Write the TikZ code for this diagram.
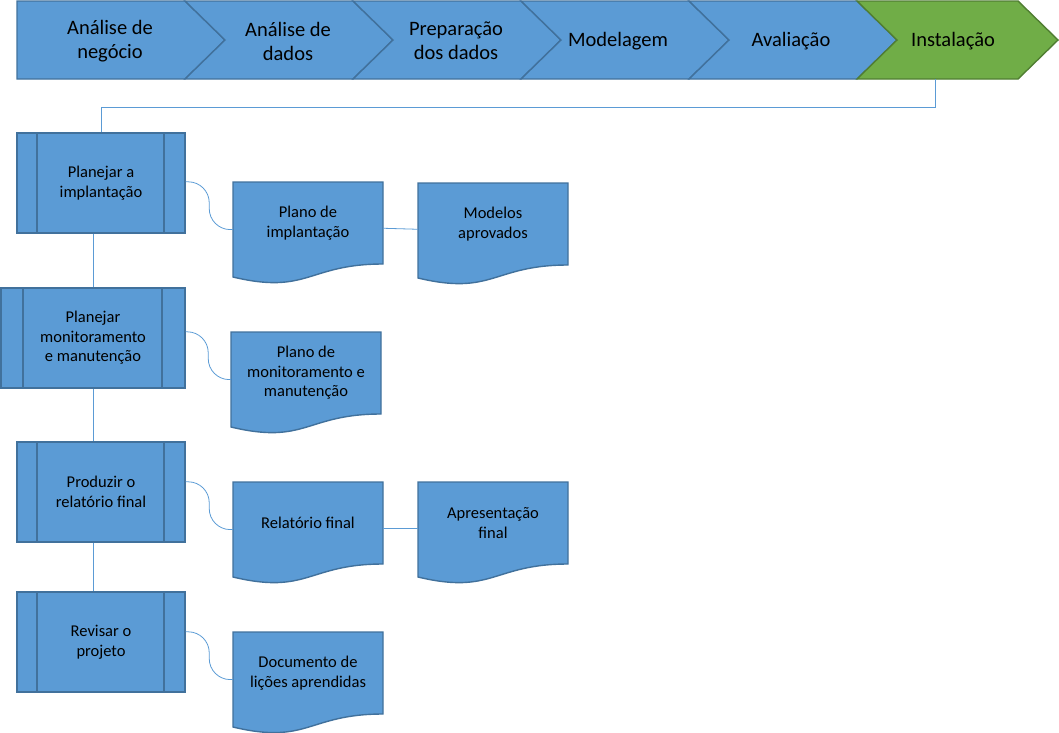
\documentclass[tikz,border=0pt]{standalone}
\usepackage{fontspec}
\setmainfont{Carlito}
\usepackage{tikz}
\usetikzlibrary{calc}

\definecolor{fillblue}{HTML}{5B9BD5}
\definecolor{bordblue}{HTML}{41719C}
\definecolor{fillgreen}{HTML}{70AD47}
\definecolor{bordgreen}{HTML}{507E32}
\definecolor{connblue}{HTML}{5B9BD5}

\tikzset{
	fase/.style={draw=bordblue, fill=fillblue, line width=1.4pt, line join=miter},
	faseverde/.style={draw=bordgreen, fill=fillgreen, line width=1.4pt, line join=miter},
	fasetexto/.style={align=center, inner sep=0pt, font=\fontsize{20.5pt}{24pt}\selectfont},
	processo/.style={draw=bordblue, fill=fillblue, line width=1.4pt, align=center,
		minimum height=100pt, inner sep=0pt, font=\fontsize{16.5pt}{19.5pt}\selectfont,
		path picture={
			\draw[bordblue, line width=1.4pt]
			($(path picture bounding box.north west)!0.12!(path picture bounding box.north east)$) --
			($(path picture bounding box.south west)!0.12!(path picture bounding box.south east)$)
			($(path picture bounding box.north west)!0.875!(path picture bounding box.north east)$) --
			($(path picture bounding box.south west)!0.875!(path picture bounding box.south east)$);
		}},
	docfundo/.style={draw=bordblue, fill=fillblue, line width=1.4pt},
	doctexto/.style={minimum width=150pt, minimum height=82pt, inner sep=0pt, align=center,
		font=\fontsize{16.5pt}{19.5pt}\selectfont},
	conector/.style={draw=connblue, line width=0.8pt}
}

% documento com base ondulada: nome, canto superior esquerdo, texto
\def\docforma(#1)(#2,#3)#4{%
	\begin{scope}[shift={(#2,#3)}]
		\draw[docfundo] (0,0) -- (150,0) -- (150,82) .. controls (75,82) and (75,113) .. (0,95) -- cycle;
		\node[doctexto] (#1) at (75,41) {#4};
	\end{scope}}

% ligacao curva em S entre dois pontos
\def\ligacurva(#1)(#2){%
	\path (#1) coordinate (ca) (#2) coordinate (cb) ($(ca)!0.5!(cb)$) coordinate (cm);
	\draw[conector, rounded corners=21pt] (ca) -- (ca -| cm) -- (cb -| cm) -- (cb);}

\begin{document}
\begin{tikzpicture}[x=1pt, y=-1pt]
		\useasboundingbox (0,0) rectangle (1059,732);
		
		%%%%% FASES %%%%%
		
		\draw[fase] (17,1) -- (185,1) -- (225,40) -- (185,79) -- (17,79) -- cycle;
		\draw[fase] (185,1) -- (353,1) -- (393,40) -- (353,79) -- (185,79) -- (225,40) -- cycle;
		\draw[fase] (353,1) -- (521,1) -- (561,40) -- (521,79) -- (353,79) -- (393,40) -- cycle;
		\draw[fase] (521,1) -- (689,1) -- (729,40) -- (689,79) -- (521,79) -- (561,40) -- cycle;
		\draw[fase] (689,1) -- (857,1) -- (897,40) -- (857,79) -- (689,79) -- (729,40) -- cycle;
		\draw[faseverde] (857,1) -- (1018,1) -- (1058,40) -- (1018,79) -- (857,79) -- (897,40) -- cycle;
		
		\node[fasetexto] (fase1) at (110,41) {Análise de\\negócio};
		\node[fasetexto] (fase2) at (288,41) {Análise de\\dados};
		\node[fasetexto] (fase3) at (456,41) {Preparação\\dos dados};
		\node[fasetexto] (fase4) at (618,41) {Modelagem};
		\node[fasetexto] (fase5) at (791,41) {Avaliação};
		\node[fasetexto] (fase6) at (953,41) {Instalação};
		\coordinate (instbase) at (935,79);
		
		%%%%% TAREFAS %%%%%
		
		\node[processo, minimum width=168pt] (plan1) at (101,183) {Planejar a\\implantação};
		\node[processo, minimum width=184pt] (plan2) at (93,338) {Planejar\\monitoramento\\e manutenção};
		\node[processo, minimum width=168pt] (plan3) at (101,492) {Produzir o\\relatório final};
		\node[processo, minimum width=168pt] (plan4) at (101,642) {Revisar o\\projeto};
		
		%%%%% SAIDAS %%%%%
		
		\docforma(doc1)(233,182){Plano de\\implantação}
		\docforma(doc2)(418,183){Modelos\\aprovados}
		\docforma(doc3)(231,332){Plano de\\monitoramento e\\manutenção}
		\docforma(doc4)(233,482){Relatório final}
		\docforma(doc5)(418,482){Apresentação\\final}
		\docforma(doc6)(233,632){Documento de\\lições aprendidas}
		
		%%%%% LIGACOES %%%%%
		
		\draw[conector] (instbase) -- ++(0,28) -| (plan1.north);
		\draw[conector] (plan1.south -| plan2.north) -- (plan2.north);
		\draw[conector] (plan2.south) -- (plan2.south |- plan3.north);
		\draw[conector] (plan3.south -| plan2.south) -- (plan4.north -| plan2.south);
		
		\ligacurva(plan1.east |- doc1.north)(doc1.185)
		\ligacurva(plan2.east |- doc3.north)(doc3.185)
		\ligacurva(plan3.east |- doc4.north)(doc4.185)
		\ligacurva(plan4.east |- doc6.north)(doc6.185)
		
		\draw[conector] (doc1.356) -- (doc2.184);
		\draw[conector] (doc4.356) -- (doc5.184);
		
\end{tikzpicture}
\end{document}
